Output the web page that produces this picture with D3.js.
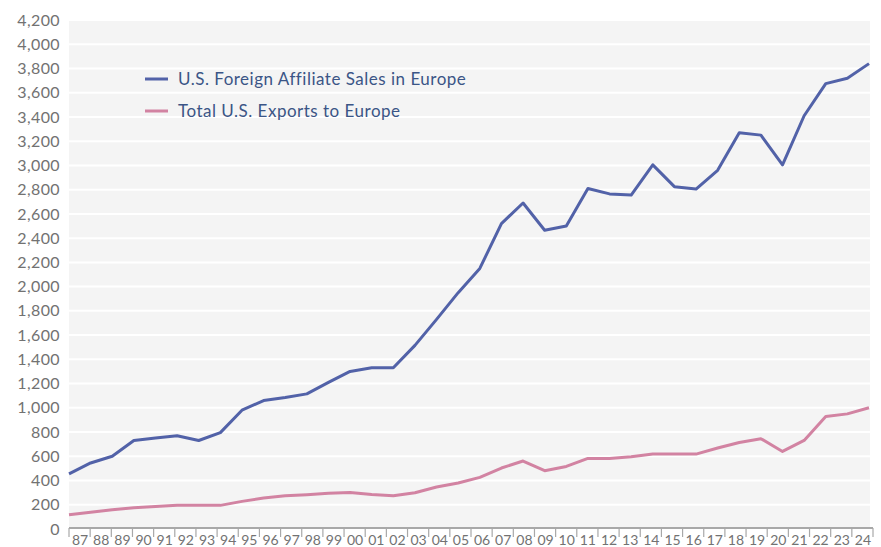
<!DOCTYPE html>
<html>
<head>
<meta charset="utf-8">
<script src="https://cdn.jsdelivr.net/npm/d3@7"></script>
<style>
body { margin: 0; background: #fff; }
text { font-family: Lato, "Open Sans", sans-serif; }
</style>
</head>
<body>
<script>
// years on the x axis
var years = ["87","88","89","90","91","92","93","94","95","96","97","98","99","00","01","02","03","04","05","06",
    "07","08","09","10","11","12","13","14","15","16","17","18","19","20","21","22","23","24"];
// US$ billions
var affiliateSales = [455, 545, 600, 730, 750, 770, 730, 795, 980, 1060, 1085, 1115, 1210, 1300, 1330, 1330, 1515, 1730, 1950, 2150,
    2520, 2690, 2465, 2500, 2810, 2765, 2755, 3005, 2825, 2805, 2960, 3270, 3250, 3005, 3410, 3675, 3720, 3840];
var exportsEurope = [118, 138, 159, 176, 186, 195, 195, 195, 228, 256, 275, 283, 294, 302, 285, 275, 299, 346, 379, 426,
    503, 561, 481, 516, 582, 582, 596, 618, 618, 618, 668, 714, 745, 640, 731, 928, 950, 1000];
var yTicks = d3.range(0, 4201, 200);
var seriesNames = ["U.S. Foreign Affiliate Sales in Europe", "Total U.S. Exports to Europe"];
var seriesColors = ["#5262a8", "#d283a2"];

var svgWidth = 881, svgHeight = 547;
// plot box
var plotLeft = 69, plotRight = 870, plotTop = 20, plotBottom = 529;

var svg = d3.select("body").append("svg")
    .attr("width", svgWidth)
    .attr("height", svgHeight);

var y = d3.scaleLinear().domain([0, 4200]).range([plotBottom, plotTop]);
var xPoint = d3.scalePoint().domain(years).range([plotLeft, plotRight - 1]);
var xBand = d3.scaleBand().domain(years).range([plotLeft, plotRight + 3]);

// grey plot background
svg.append("rect")
    .attr("x", plotLeft).attr("y", plotTop)
    .attr("width", plotRight - plotLeft).attr("height", plotBottom - plotTop)
    .attr("fill", "#f4f4f4");

// white gridlines
svg.append("g").selectAll("line")
    .data(yTicks.slice(1))
    .join("line")
    .attr("x1", plotLeft).attr("x2", plotRight)
    .attr("y1", function(d) { return y(d); })
    .attr("y2", function(d) { return y(d); })
    .attr("stroke", "#fff")
    .attr("stroke-width", 2);

// y axis labels
var yAxis = svg.append("g")
    .attr("transform", "translate(" + (plotLeft - 9) + ",0)")
    .call(d3.axisLeft(y).tickValues(yTicks).tickFormat(d3.format(",")).tickSize(0).tickPadding(0));
yAxis.select(".domain").remove();
yAxis.selectAll("text")
    .attr("fill", "#727272")
    .style("font-size", "16px")
    .style("letter-spacing", "0.4px")
    .style("font-family", "Lato, sans-serif");

// x axis: line, ticks between years, labels in the bands
var xg = svg.append("g");
xg.append("line")
    .attr("x1", plotLeft).attr("x2", plotRight + 3)
    .attr("y1", plotBottom - 1).attr("y2", plotBottom - 1)
    .attr("stroke", "#a8a8a8").attr("stroke-width", 2);
var tickPos = years.map(function(d) { return xBand(d); }).concat([xBand.range()[1]]);
xg.selectAll(".tick")
    .data(tickPos)
    .join("line")
    .attr("class", "tick")
    .attr("x1", function(d) { return d; })
    .attr("x2", function(d) { return d; })
    .attr("y1", plotBottom - 1).attr("y2", plotBottom + 8)
    .attr("stroke", "#a8a8a8").attr("stroke-width", 1.2);
xg.selectAll(".lbl")
    .data(years)
    .join("text")
    .attr("class", "lbl")
    .attr("x", function(d) { return xBand(d) + xBand.bandwidth() / 2 + 0.5; })
    .attr("y", 545)
    .attr("text-anchor", "middle")
    .attr("fill", "#727272")
    .style("font-size", "14px")
    .text(function(d) { return d; });

// the two lines
var line = d3.line()
    .x(function(d, i) { return xPoint(years[i]); })
    .y(function(d) { return y(d); });
[affiliateSales, exportsEurope].forEach(function(vals, k) {
    svg.append("path")
        .datum(vals)
        .attr("d", line)
        .attr("fill", "none")
        .attr("stroke", seriesColors[k])
        .attr("stroke-width", 3)
        .attr("stroke-linejoin", "round");
});

// legend
var legend = svg.append("g");
seriesNames.forEach(function(name, k) {
    var ly = 79 + k * 32;
    legend.append("line")
        .attr("x1", 145).attr("x2", 168)
        .attr("y1", ly).attr("y2", ly)
        .attr("stroke", seriesColors[k]).attr("stroke-width", 3);
    legend.append("text")
        .attr("x", 178).attr("y", ly + 6)
        .attr("fill", "#3b5586")
        .style("font-size", "17px")
        .style("letter-spacing", "0.5px")
        .text(name);
});
</script>
</body>
</html>
